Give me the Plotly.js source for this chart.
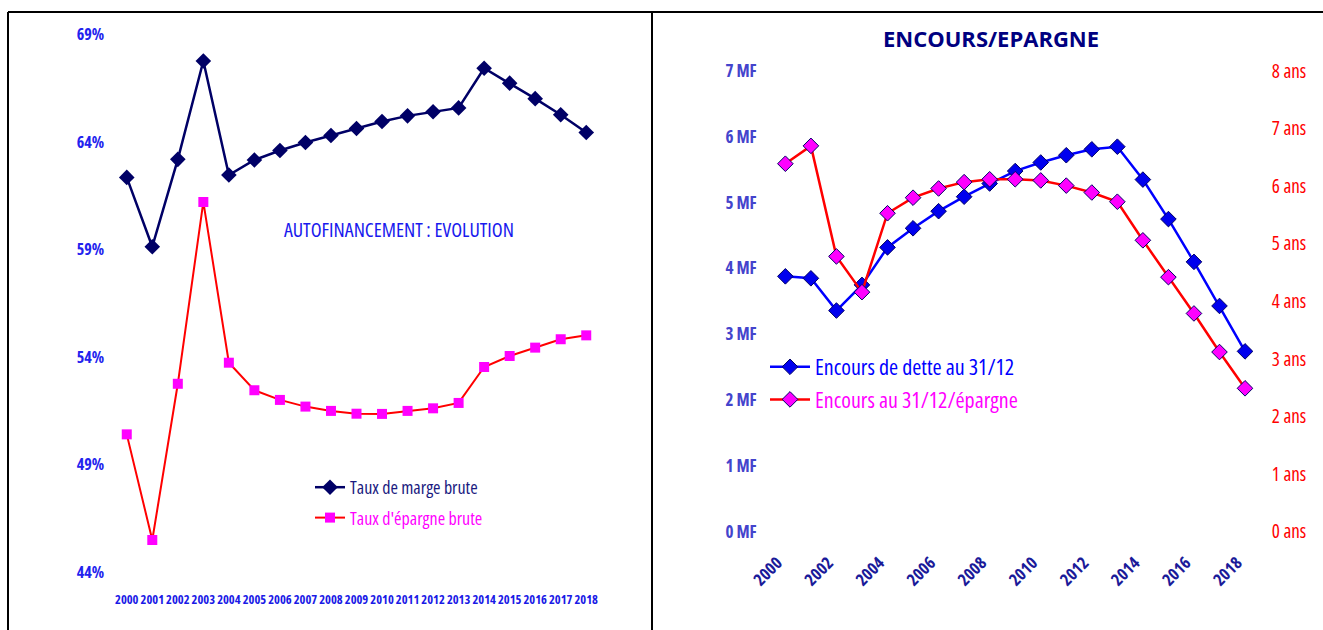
<!DOCTYPE html>
<html>
<head>
<meta charset="utf-8">
<script src="https://cdn.plot.ly/plotly-3.0.1.min.js"></script>
<style>
html, body { margin: 0; padding: 0; background: #ffffff; }
#chart { width: 1323px; height: 630px; }
#chart svg text { font-stretch: 75%; }
#chart g.annotation[data-index="1"] text { font-stretch: 100%; }
</style>
</head>
<body>
<div id="chart"></div>
<script>
// ---- Data ----
const years = [2000, 2001, 2002, 2003, 2004, 2005, 2006, 2007, 2008, 2009,
               2010, 2011, 2012, 2013, 2014, 2015, 2016, 2017, 2018];
const tauxMargeBrute = [62.35, 59.13, 63.19, 67.76, 62.46, 63.16, 63.60, 63.97, 64.30, 64.62,
                        64.95, 65.21, 65.40, 65.58, 67.42, 66.73, 66.01, 65.26, 64.44];
const tauxEpargneBrute = [50.41, 45.50, 52.76, 61.21, 53.74, 52.46, 52.01, 51.70, 51.50, 51.37,
                          51.36, 51.50, 51.62, 51.87, 53.54, 54.05, 54.44, 54.83, 55.01];
const encoursDette = [3.88, 3.85, 3.36, 3.75, 4.32, 4.61, 4.87, 5.09, 5.29, 5.48,
                      5.61, 5.72, 5.81, 5.85, 5.35, 4.75, 4.10, 3.43, 2.74];
const encoursEpargne = [6.39, 6.70, 4.78, 4.16, 5.53, 5.80, 5.96, 6.07, 6.12, 6.12,
                        6.10, 6.01, 5.89, 5.73, 5.06, 4.42, 3.79, 3.12, 2.49];
const leftYTicks = [44, 49, 54, 59, 64, 69];
const leftYLabels = ['44%', '49%', '54%', '59%', '64%', '69%'];
const rightXTicks = [2000, 2002, 2004, 2006, 2008, 2010, 2012, 2014, 2016, 2018];
const mfTicks = [0, 1, 2, 3, 4, 5, 6, 7];
const mfLabels = ['0 MF', '1 MF', '2 MF', '3 MF', '4 MF', '5 MF', '6 MF', '7 MF'];
const ansTicks = [0, 1, 2, 3, 4, 5, 6, 7, 8];
const ansLabels = ['0 ans', '1 ans', '2 ans', '3 ans', '4 ans', '5 ans', '6 ans', '7 ans', '8 ans'];

const FB = '"Open Sans", sans-serif';
const W = 1323, H = 630;
const px = v => v / W;
const py = v => 1 - v / H;

const traces = [
  {
    x: years, y: tauxMargeBrute, xaxis: 'x', yaxis: 'y',
    type: 'scatter', mode: 'lines+markers',
    name: '<span style="color:#1a1a80">Taux de marge brute</span>',
    legend: 'legend', legendgroup: 'a',
    line: { color: '#000066', width: 2.5 },
    marker: { symbol: 'diamond', size: 12, color: '#000066' }
  },
  {
    x: years, y: tauxEpargneBrute, xaxis: 'x', yaxis: 'y',
    type: 'scatter', mode: 'lines+markers',
    name: '<span style="color:#ff00ff">Taux d\'épargne brute</span>',
    legend: 'legend', legendgroup: 'b',
    line: { color: '#ff0000', width: 2 },
    marker: { symbol: 'square', size: 10, color: '#ff00ff' }
  },
  {
    x: years, y: encoursDette, xaxis: 'x2', yaxis: 'y2',
    type: 'scatter', mode: 'lines+markers',
    name: '<span style="color:#0000ff">Encours de dette au 31/12</span>',
    legend: 'legend2', legendgroup: 'c',
    line: { color: '#0000ff', width: 2.5 },
    marker: { symbol: 'diamond', size: 12, color: '#0000ee', line: { color: '#000066', width: 1 } }
  },
  {
    x: years, y: encoursEpargne, xaxis: 'x2', yaxis: 'y3',
    type: 'scatter', mode: 'lines+markers',
    name: '<span style="color:#ff00ff">Encours au 31/12/épargne</span>',
    legend: 'legend2', legendgroup: 'd',
    line: { color: '#ff0000', width: 2.5 },
    marker: { symbol: 'diamond', size: 12, color: '#ff00ff', line: { color: '#000066', width: 1 } }
  }
];

const layout = {
  width: W, height: H,
  margin: { l: 0, r: 0, t: 0, b: 0 },
  paper_bgcolor: '#ffffff', plot_bgcolor: 'rgba(0,0,0,0)',
  showlegend: true,
  xaxis: {
    domain: [px(114), px(599)], anchor: 'y',
    range: [1999.5, 2018.5], tickvals: years, ticktext: years.map(String),
    tickangle: 0,
    showgrid: false, zeroline: false, showline: false, ticks: '',
    ticklabelstandoff: 18,
    tickfont: { family: FB, size: 12.5, color: '#1a1ae6', weight: 'bold' }
  },
  yaxis: {
    domain: [py(572.3), py(34.3)], anchor: 'x',
    range: [44, 69], tickvals: leftYTicks, ticktext: leftYLabels,
    showgrid: false, zeroline: false, showline: false, ticks: '',
    ticklabelstandoff: 9,
    tickfont: { family: FB, size: 16, color: '#2222ee', weight: 'bold' }
  },
  xaxis2: {
    domain: [px(772.6), px(1257.8)], anchor: 'y2',
    range: [1999.5, 2018.5], tickvals: rightXTicks, ticktext: rightXTicks.map(String),
    tickangle: -45,
    showgrid: false, zeroline: false, showline: false, ticks: '',
    ticklabelstandoff: 17, ticklabelshift: -8,
    tickfont: { family: FB, size: 17, color: '#1a1a99', weight: 'bold' }
  },
  yaxis2: {
    domain: [py(531.7), py(71)], anchor: 'x2',
    range: [0, 7], tickvals: mfTicks, ticktext: mfLabels,
    showgrid: false, zeroline: false, showline: false, ticks: '',
    ticklabelstandoff: 15,
    tickfont: { family: FB, size: 17, color: '#4444cc', weight: 'bold' }
  },
  yaxis3: {
    domain: [py(531.7), py(71)], anchor: 'x2', overlaying: 'y2', side: 'right',
    range: [0, 8], tickvals: ansTicks, ticktext: ansLabels,
    showgrid: false, zeroline: false, showline: false, ticks: '',
    ticklabelstandoff: 13,
    tickfont: { family: FB, size: 19, color: '#ff0000' }
  },
  legend: {
    x: px(310), y: py(469), xanchor: 'left', yanchor: 'top',
    bgcolor: 'rgba(0,0,0,0)', borderwidth: 0,
    traceorder: 'grouped', tracegroupgap: 4,
    font: { family: FB, size: 18, color: '#1a1a80' }
  },
  legend2: {
    x: px(765), y: py(346), xanchor: 'left', yanchor: 'top',
    bgcolor: 'rgba(0,0,0,0)', borderwidth: 0,
    traceorder: 'grouped', tracegroupgap: 1,
    itemwidth: 40,
    font: { family: FB, size: 22, color: '#0000ff' }
  },
  annotations: [
    {
      text: 'AUTOFINANCEMENT : EVOLUTION', xref: 'paper', yref: 'paper',
      x: px(399), y: py(229), xanchor: 'center', yanchor: 'middle', showarrow: false,
      font: { family: FB, size: 20, color: '#1a1aee' }
    },
    {
      text: '<b>ENCOURS/EPARGNE</b>', xref: 'paper', yref: 'paper',
      x: px(991), y: py(38), xanchor: 'center', yanchor: 'middle', showarrow: false,
      font: { family: FB, size: 22, color: '#000080' }
    }
  ],
  shapes: [
    { type: 'line', xref: 'paper', yref: 'paper', x0: px(8), x1: 1, y0: py(12), y1: py(12), line: { color: '#000000', width: 2 } },
    { type: 'line', xref: 'paper', yref: 'paper', x0: px(8), x1: px(8), y0: py(12), y1: 0, line: { color: '#000000', width: 2 } },
    { type: 'line', xref: 'paper', yref: 'paper', x0: px(652), x1: px(652), y0: py(12), y1: 0, line: { color: '#000000', width: 2 } }
  ]
};

Plotly.newPlot('chart', traces, layout, { displayModeBar: false, staticPlot: true });
</script>
</body>
</html>
